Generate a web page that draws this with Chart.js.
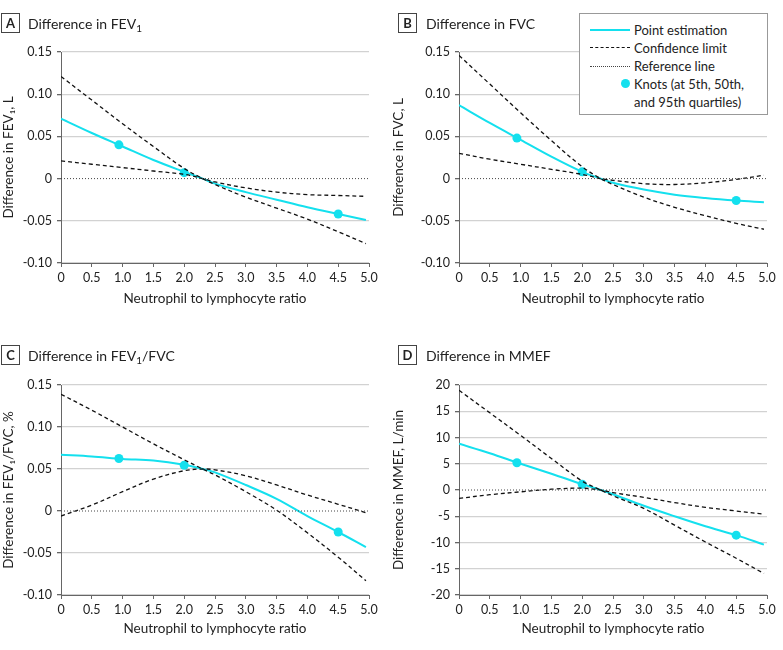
<!DOCTYPE html>
<html><head><meta charset="utf-8">
<script src="https://cdn.jsdelivr.net/npm/chart.js@4.4.1/dist/chart.umd.min.js"></script>
<style>
body{margin:0;background:#fff;width:783px;height:650px;position:relative;overflow:hidden;font-family:Lato,sans-serif;color:#222}
canvas{position:absolute}
.tag{position:absolute;width:17px;height:18px;border:1px solid #444;font:bold 13px Lato,sans-serif;text-align:center;line-height:18px;box-sizing:content-box}
.ttl{position:absolute;font:14px Lato,sans-serif;white-space:nowrap;line-height:20px}
.ttl sub{font-size:10px;vertical-align:-3px;line-height:0}
#legend{position:absolute;left:579px;top:13px;width:187px;height:100px;border:1px solid #999;background:#fff;font:13px Lato,sans-serif}
#legend .row{position:absolute;left:0;height:18px;line-height:18px;white-space:nowrap}
</style></head><body>
<canvas id="cA" style="left:0;top:0" width="390" height="320"></canvas>
<canvas id="cB" style="left:390px;top:0" width="393" height="320"></canvas>
<canvas id="cC" style="left:0;top:320px" width="390" height="330"></canvas>
<canvas id="cD" style="left:390px;top:320px" width="393" height="330"></canvas>

<div class="tag" style="left:1px;top:13px">A</div><div class="ttl" style="left:28px;top:14px">Difference in FEV<sub>1</sub></div>
<div class="tag" style="left:398px;top:13px">B</div><div class="ttl" style="left:426px;top:14px">Difference in FVC</div>
<div class="tag" style="left:1px;top:345px">C</div><div class="ttl" style="left:28px;top:346px">Difference in FEV<sub>1</sub>/FVC</div>
<div class="tag" style="left:398px;top:345px">D</div><div class="ttl" style="left:426px;top:346px">Difference in MMEF</div>

<div id="legend">
 <div class="row" style="top:7px"><span style="position:absolute;left:10px;top:8px;width:40px;border-top:2px solid #14e0ee"></span><span style="position:absolute;left:54px">Point estimation</span></div>
 <div class="row" style="top:25px"><span style="position:absolute;left:10px;top:8px;width:40px;border-top:1.5px dashed #111"></span><span style="position:absolute;left:54px">Confidence limit</span></div>
 <div class="row" style="top:43px"><span style="position:absolute;left:10px;top:9px;width:40px;border-top:1px dotted #444"></span><span style="position:absolute;left:54px">Reference line</span></div>
 <div class="row" style="top:61px"><span style="position:absolute;left:41px;top:4px;width:9px;height:9px;border-radius:50%;background:#14e0ee"></span><span style="position:absolute;left:54px">Knots (at 5th, 50th,</span></div>
 <div class="row" style="top:79px"><span style="position:absolute;left:54px">and 95th quartiles)</span></div>
</div>

<script>
// ---- data ----
const ratioX = [0, 0.5, 1, 1.5, 2, 2.3, 2.5, 3, 3.5, 4, 4.5, 4.95];
const knotX = [0.94, 2.0, 4.5];
const ratioTickLabels = ['0','0.5','1.0','1.5','2.0','2.5','3.0','3.5','4.0','4.5','5.0'];
const litreTickLabels = ['-0.10','-0.05','0','0.05','0.10','0.15'];
const mmefTickLabels = ['-20','-15','-10','-5','0','5','10','15','20'];

const fev1Estimate = [0.071, 0.054, 0.038, 0.022, 0.008, 0.000, -0.006, -0.016, -0.025, -0.034, -0.042, -0.049];
const fev1Upper    = [0.121, 0.093, 0.065, 0.038, 0.012, 0.000, -0.007, -0.022, -0.035, -0.048, -0.063, -0.077];
const fev1Lower    = [0.021, 0.017, 0.013, 0.009, 0.005, 0.000, -0.004, -0.011, -0.016, -0.019, -0.020, -0.021];
const fev1Knots    = [0.040, 0.007, -0.042];

const fvcEstimate = [0.087, 0.066, 0.046, 0.026, 0.008, 0.000, -0.005, -0.013, -0.019, -0.023, -0.026, -0.028];
const fvcUpper    = [0.146, 0.112, 0.078, 0.045, 0.014, 0.000, -0.007, -0.022, -0.034, -0.044, -0.053, -0.060];
const fvcLower    = [0.030, 0.023, 0.017, 0.011, 0.005, 0.000, -0.002, -0.006, -0.007, -0.005, -0.001, 0.004];
const fvcKnots    = [0.048, 0.008, -0.026];

const ratioEstimate = [0.067, 0.065, 0.062, 0.060, 0.055, 0.050, 0.046, 0.031, 0.0145, -0.006, -0.025, -0.043];
const ratioUpper    = [0.139, 0.120, 0.100, 0.080, 0.061, 0.050, 0.043, 0.023, 0.001, -0.026, -0.055, -0.083];
const ratioLower    = [-0.006, 0.007, 0.023, 0.038, 0.048, 0.050, 0.049, 0.042, 0.031, 0.019, 0.008, -0.002];
const ratioKnots    = [0.0625, 0.0545, -0.025];

const mmefEstimate = [8.8, 7.0, 5.0, 3.1, 1.1, 0.0, -0.8, -3.0, -5.0, -6.9, -8.6, -10.4];
const mmefUpper    = [19.0, 14.7, 10.4, 6.0, 1.7, 0.0, -1.1, -3.5, -6.7, -9.9, -13.0, -15.9];
const mmefLower    = [-1.6, -0.9, -0.35, 0.15, 0.35, 0.0, -0.5, -1.4, -2.4, -3.3, -4.0, -4.6];
const mmefKnots    = [5.2, 1.1, -8.6];

// ---- style ----
const CYAN = '#14e0ee';
const FONT = 'Lato, sans-serif';
const pts = (ys) => ratioX.map((x,i)=>({x, y: ys[i]}));

function makeChart(id, cfg) {
  const L = cfg.area;
  const canvas = document.getElementById(id);
  const W = canvas.width, H = canvas.height;
  const labelFor = (labels, v) => { const f = labels.find(s => Math.abs(parseFloat(s) - v) < 1e-6); return f === undefined ? '' : f; };
  return new Chart(canvas, {
    type: 'line',
    data: { datasets: [
      { label: 'Reference line', data: [{x:0,y:0},{x:5,y:0}], borderColor:'#444', borderWidth:1, borderDash:[1,2], pointRadius:0 },
      { label: 'Confidence limit', data: pts(cfg.upper), borderColor:'#111', borderWidth:1.3, borderDash:[4,3], pointRadius:0, tension:0.35 },
      { label: 'Confidence limit', data: pts(cfg.lower), borderColor:'#111', borderWidth:1.3, borderDash:[4,3], pointRadius:0, tension:0.35 },
      { label: 'Point estimation', data: pts(cfg.est), borderColor:CYAN, borderWidth:2, pointRadius:0, tension:0.35 },
      { label: 'Knots', data: knotX.map((x,i)=>({x, y:cfg.knots[i]})), showLine:false, pointRadius:4.5, pointBackgroundColor:CYAN, pointBorderWidth:0 }
    ]},
    options: {
      animation:false, responsive:false, maintainAspectRatio:false,
      layout:{ padding:{ left:0, top:L.top, right: W - L.right, bottom:0 } },
      plugins:{ legend:{display:false}, tooltip:{enabled:false} },
      scales:{
        x:{ type:'linear', min:0, max:5,
            afterFit:(s)=>{ s.height = H - L.bottom; },
            ticks:{ stepSize:0.5, padding:3, color:'#222', font:{family:FONT,size:12.5}, maxRotation:0, autoSkip:false,
                    callback:(v)=>labelFor(ratioTickLabels, v) },
            grid:{ drawOnChartArea:false, drawTicks:true, tickLength:4, tickColor:'#666' },
            border:{ display:true, color:'#666', width:1 },
            title:{ display:true, text:'Neutrophil to lymphocyte ratio', color:'#222', font:{family:FONT,size:13.5}, padding:{top:0,bottom:13} } },
        y:{ type:'linear', min:cfg.min, max:cfg.max,
            afterFit:(s)=>{ s.width = L.left; },
            ticks:{ stepSize:cfg.step, padding:5, color:'#222', font:{family:FONT,size:12.5}, autoSkip:false,
                    callback:(v)=>labelFor(cfg.tickLabels, v) },
            grid:{ color:(c)=> (c.tick && Math.abs(c.tick.value) < 1e-9) ? 'rgba(0,0,0,0)' : '#d2d2d2', lineWidth:1.3, tickLength:4, tickColor:'#666' },
            border:{ display:true, color:'#666', width:1 },
            title:{ display:true, text:cfg.yTitle, color:'#222', font:{family:FONT,size:13.5}, padding:{top:1,bottom:0} } }
      }
    }
  });
}

makeChart('cA', { area:{left:61,right:369,top:52,bottom:263}, est:fev1Estimate, upper:fev1Upper, lower:fev1Lower, knots:fev1Knots,
  min:-0.10, max:0.15, step:0.05, tickLabels:litreTickLabels, yTitle:'Difference in FEV\u2081, L' });
makeChart('cB', { area:{left:69,right:377,top:52,bottom:263}, est:fvcEstimate, upper:fvcUpper, lower:fvcLower, knots:fvcKnots,
  min:-0.10, max:0.15, step:0.05, tickLabels:litreTickLabels, yTitle:'Difference in FVC, L' });
makeChart('cC', { area:{left:61,right:369,top:65,bottom:275}, est:ratioEstimate, upper:ratioUpper, lower:ratioLower, knots:ratioKnots,
  min:-0.10, max:0.15, step:0.05, tickLabels:litreTickLabels, yTitle:'Difference in FEV\u2081/FVC, %' });
makeChart('cD', { area:{left:69,right:377,top:65,bottom:275}, est:mmefEstimate, upper:mmefUpper, lower:mmefLower, knots:mmefKnots,
  min:-20, max:20, step:5, tickLabels:mmefTickLabels, yTitle:'Difference in MMEF, L/min' });
</script>
</body></html>
